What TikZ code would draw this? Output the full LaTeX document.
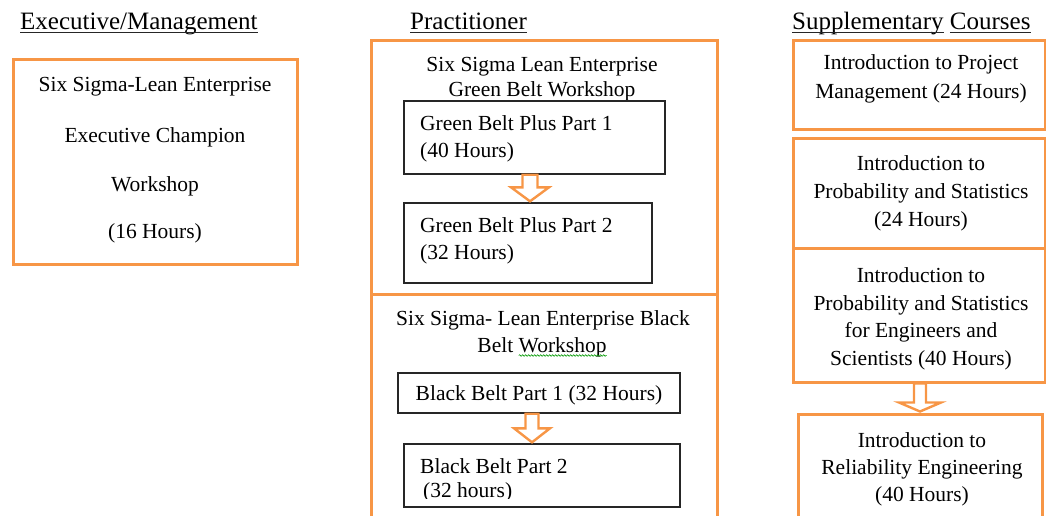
\documentclass[tikz,border=0pt]{standalone}
\usepackage{fontspec}
\setmainfont{Liberation Serif}
\usetikzlibrary{calc,decorations.pathmorphing}
\definecolor{borange}{HTML}{F79646}
\newcommand{\bx}[6]{\node[#2,minimum width={(#5)-(#3)},minimum height={(#6)-(#4)}] (#1) at ({((#3)+(#5))/2},{((#4)+(#6))/2}) {};}
\newcommand{\hdown}[6]{\draw[harrow] let \p1=(#1.south),\p2=(#2.north),\p3=(#3,0) in
 (\x3-#4pt,\y1) -- (\x3+#4pt,\y1) -- (\x3+#4pt,\y2+#6pt) -- (\x3+#5pt,\y2+#6pt) -- (\x3,\y2+1pt) -- (\x3-#5pt,\y2+#6pt) -- (\x3-#4pt,\y2+#6pt) -- cycle;}
\begin{document}
\begin{tikzpicture}[x=1pt,y=-1pt,
  obox/.style={draw=borange,line width=3pt,inner sep=0pt},
  kbox/.style={draw=black!85,line width=1.4pt,inner sep=0pt},
  harrow/.style={draw=borange,line width=2.4pt,line join=miter},
  body/.style={font=\fontsize{21.5}{24}\selectfont,inner sep=0pt,anchor=base},
  bodyl/.style={body,anchor=base west},
  ttl/.style={font=\fontsize{25}{28}\selectfont,inner sep=0pt,anchor=base west},
  uline/.style={line width=1.3pt,draw=black!85}]
\useasboundingbox (0,0) rectangle (1046,515);
% titles
\node[ttl] (t1) at (20,29) {Executive/Management};
\draw[uline] ($(t1.base west)+(0,3.5)$) -- ($(t1.base east)+(0,3.5)$);
\node[ttl] (t2) at (410,29) {Practitioner};
\draw[uline] ($(t2.base west)+(0,3.5)$) -- ($(t2.base east)+(0,3.5)$);
\node[ttl] (t3a) at (792,29) {Supplementary};
\node[ttl] (t3b) at ($(t3a.base east)+(6,0)$) {Courses};
\draw[uline] ($(t3a.base west)+(0,3.5)$) -- ($(t3a.base east)+(0,3.5)$);
\draw[uline] ($(t3b.base west)+(0,3.5)$) -- ($(t3b.base east)+(0,3.5)$);
% executive
\bx{exec}{obox}{13}{59}{297}{264}
\node[body] (e1) at (155,91) {Six Sigma-Lean Enterprise};
\node[body] (e2) at (155,142) {Executive Champion};
\node[body] (e3) at (155,191) {Workshop};
\node[body] (e4) at (155,238) {(16 Hours)};
% practitioner
\bx{pg}{obox}{371}{40}{717}{294}
\bx{pb}{obox}{371}{294}{717}{522}
\node[body] (g0a) at (542,71) {Six Sigma Lean Enterprise};
\node[body] (g0b) at (542,96) {Green Belt Workshop};
\bx{gb1}{kbox}{404}{101}{665}{174}
\node[bodyl] (g1a) at (420,130) {Green Belt Plus Part 1};
\node[bodyl] (g1b) at (420,157) {(40 Hours)};
\bx{gb2}{kbox}{404}{203}{652}{283}
\node[bodyl] (g2a) at (420,232) {Green Belt Plus Part 2};
\node[bodyl] (g2b) at (420,259) {(32 Hours)};
\node[body] (b0a) at (543,325) {Six Sigma- Lean Enterprise Black};
\node[body] (b0b) at (542,352) {Belt Workshop};
\draw[green!60!black,line width=0.6pt,decorate,decoration={snake,amplitude=0.8pt,segment length=3pt}] ($(b0b.base east)+(-88,3.5)$) -- ($(b0b.base east)+(0,3.5)$);
\bx{bb1}{kbox}{398}{373}{680}{413}
\node[body] (b1) at (539,400) {Black Belt Part 1 (32 Hours)};
\bx{bb2}{kbox}{404}{444}{680}{507}
\node[bodyl] (b2a) at (420,473) {Black Belt Part 2};
\begin{scope}
\clip (390,480) rectangle (700,498);
\node[bodyl] (b2b) at (423,497) {(32 hours)};
\end{scope}
% supplementary
\bx{sa}{obox}{793}{40}{1045}{129}
\node[body] (a1) at (921,69) {Introduction to Project};
\node[body] (a2) at (921,98) {Management (24 Hours)};
\bx{sb}{obox}{793}{138}{1045}{248}
\node[body] (c1) at (921,170) {Introduction to};
\node[body] (c2) at (921,198) {Probability and Statistics};
\node[body] (c3) at (921,226) {(24 Hours)};
\bx{sc}{obox}{793}{248}{1045}{382}
\node[body] (d1) at (921,282) {Introduction to};
\node[body] (d2) at (921,310) {Probability and Statistics};
\node[body] (d3) at (921,337) {for Engineers and};
\node[body] (d4) at (921,365) {Scientists (40 Hours)};
\bx{sd}{obox}{798}{414}{1042}{525}
\node[body] (f1) at (922,447) {Introduction to};
\node[body] (f2) at (922,474) {Reliability Engineering};
\node[body] (f3) at (922,501) {(40 Hours)};
% arrows
\hdown{gb1}{gb2}{530}{7.5}{19}{15}
\hdown{bb1}{bb2}{532}{6.5}{18}{15}
\hdown{sc}{sd}{920}{6}{21}{10}
\end{tikzpicture}
\end{document}
